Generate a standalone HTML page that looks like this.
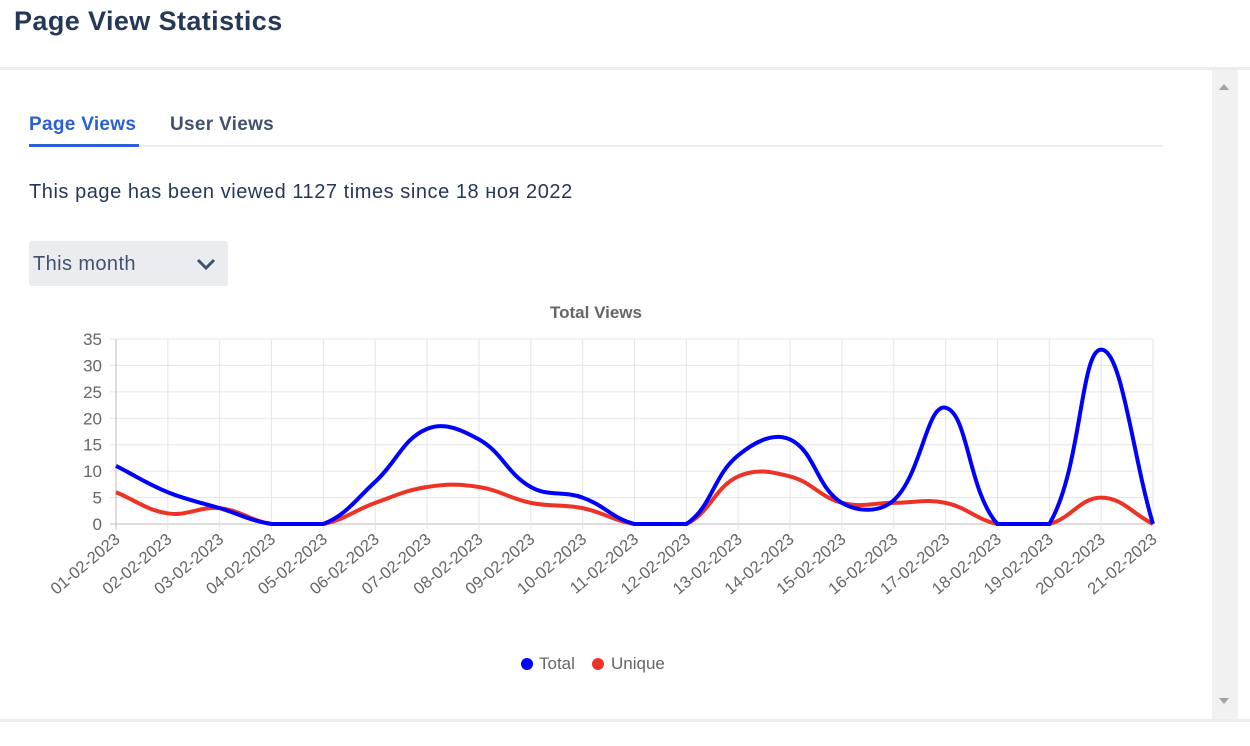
<!DOCTYPE html>
<html><head><meta charset="utf-8"><style>
body{margin:0;width:1250px;height:746px;background:#fff;font-family:"Liberation Sans",sans-serif;position:relative;overflow:hidden}
.t{position:absolute;color:#172b4d;white-space:nowrap}
</style></head><body>
<div class="t" style="left:14px;top:6px;font-size:27px;font-weight:bold;letter-spacing:0.4px;color:#253858">Page View Statistics</div>
<div style="position:absolute;left:0;top:67px;width:1250px;height:3px;background:#ebecf0"></div>
<div style="position:absolute;left:1212px;top:70px;width:26px;height:650px;background:#f1f1f1"></div>
<div style="position:absolute;left:1219px;top:84px;width:0;height:0;border-left:5px solid transparent;border-right:5px solid transparent;border-bottom:6px solid #a3a3a3"></div>
<div style="position:absolute;left:1219px;top:698px;width:0;height:0;border-left:5px solid transparent;border-right:5px solid transparent;border-top:6px solid #a3a3a3"></div>
<div style="position:absolute;left:0;top:719px;width:1250px;height:3px;background:#ebecf0"></div>
<div class="t" style="left:29px;top:114px;font-size:19px;font-weight:bold;letter-spacing:0.3px;color:#2a5fd6">Page Views</div>
<div class="t" style="left:170px;top:114px;font-size:19px;font-weight:bold;letter-spacing:0.3px;color:#42526e">User Views</div>
<div style="position:absolute;left:29px;top:145px;width:1134px;height:2px;background:#ebecf0"></div>
<div style="position:absolute;left:29px;top:144px;width:110px;height:3px;background:#2a5fd6"></div>
<div class="t" style="left:29px;top:181px;font-size:20px;letter-spacing:0.55px;color:#253858">This page has been viewed 1127 times since 18 ноя 2022</div>
<div style="position:absolute;left:29px;top:241px;width:199px;height:45px;background:#ebecf0;border-radius:3px"></div>
<div class="t" style="left:33px;top:253px;font-size:20px;letter-spacing:0.4px;color:#42526e">This month</div>
<svg style="position:absolute;left:196px;top:257px" width="20" height="14"><path d="M2 3 L10 11 L18 3" stroke="#42526e" stroke-width="3" fill="none"/></svg>
<svg id="c" style="position:absolute;left:0;top:0" width="1250" height="746" font-family="Liberation Sans, sans-serif"></svg>
<script>
var T=[11,6,3,0,0,8,18,16,7,5,0,0,13,16,4,4.5,22,0,0,33,0];
var U=[6,2,3,0,0,4,7,7,4,3,0,0,9,9,4,4,4,0,0,5,0];
var X0=116,DX=(1153-116)/20,Y0=524,Y1=339,K=(Y0-Y1)/35;
var s='';
s+='<text x="596" y="318" text-anchor="middle" font-size="17" font-weight="bold" fill="#666">Total Views</text>';
for(var i=0;i<=7;i++){var y=Y0-i*5*K;s+='<line x1="110" x2="1153" y1="'+y+'" y2="'+y+'" stroke="'+(i==0?'#bbb':'#e5e5e5')+'" stroke-width="1"/>';
s+='<text x="102" y="'+(y+6)+'" text-anchor="end" font-size="17" fill="#666">'+(i*5)+'</text>';}
for(var i=0;i<=20;i++){var x=X0+i*DX;s+='<line x1="'+x+'" x2="'+x+'" y1="'+Y1+'" y2="'+(Y0+6)+'" stroke="'+(i==0?'#bbb':'#e5e5e5')+'"/>';
var d=(i+1<10?'0':'')+(i+1)+'-02-2023';
s+='<text transform="translate('+(x+5)+',541) rotate(-40)" text-anchor="end" font-size="16.5" fill="#666">'+d+'</text>';}
function path(v){var p=v.map(function(a,i){return[X0+i*DX,Y0-a*K]});var n=p.length,c=[];
for(var i=0;i<n;i++){var a=p[i-1]||p[i],b=p[i],e=p[i+1]||p[i];
var d1=Math.hypot(b[0]-a[0],b[1]-a[1]),d2=Math.hypot(e[0]-b[0],e[1]-b[1]);var s1=d1/(d1+d2||1),s2=d2/(d1+d2||1);
var fa=0.4*s1,fb=0.4*s2;
var cp=[b[0]-fa*(e[0]-a[0]),b[1]-fa*(e[1]-a[1])],cn=[b[0]+fb*(e[0]-a[0]),b[1]+fb*(e[1]-a[1])];
[cp,cn].forEach(function(q){q[1]=Math.min(Y0,Math.max(Y1,q[1]));q[0]=Math.min(1153,Math.max(X0,q[0]))});
c.push([cp,cn]);}
var d='M'+p[0][0]+' '+p[0][1];for(var i=1;i<n;i++){d+=' C'+c[i-1][1][0]+' '+c[i-1][1][1]+' '+c[i][0][0]+' '+c[i][0][1]+' '+p[i][0]+' '+p[i][1];}return d;}
s+='<path d="'+path(U)+'" fill="none" stroke="#ee3326" stroke-width="4"/>';
s+='<path d="'+path(T)+'" fill="none" stroke="#0000ff" stroke-width="4"/>';
s+='<circle cx="527" cy="664" r="6" fill="#0000ff"/><text x="539" y="669" font-size="17" fill="#666">Total</text>';
s+='<circle cx="598" cy="664" r="6" fill="#ee3326"/><text x="611" y="669" font-size="17" fill="#666">Unique</text>';
document.getElementById('c').innerHTML=s;
</script>
</body></html>
